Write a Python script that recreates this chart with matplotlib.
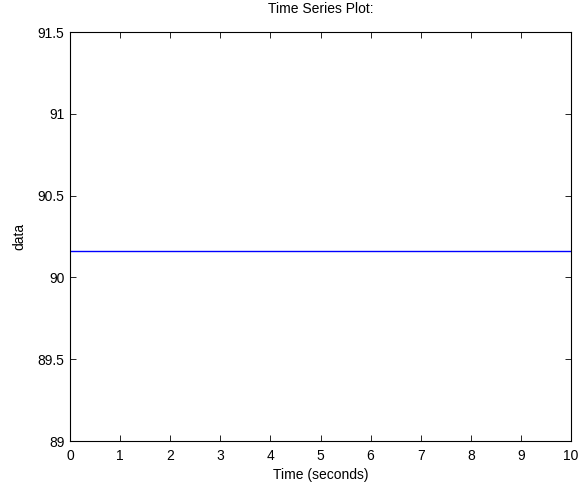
import matplotlib
matplotlib.use("Agg")
import matplotlib.pyplot as plt

time_s = [0, 1, 2, 3, 4, 5, 6, 7, 8, 9, 10]
data_vals = [90.16] * 11
xticks = [0, 1, 2, 3, 4, 5, 6, 7, 8, 9, 10]
yticks = [89, 89.5, 90, 90.5, 91, 91.5]
ytick_labels = ["89", "89.5", "90", "90.5", "91", "91.5"]

plt.rcParams['font.family'] = ['Liberation Sans', 'DejaVu Sans']
fig = plt.figure(figsize=(5.84, 4.86), dpi=100)
ax = fig.add_axes([70/584, 45/486, 501/584, 409/486])
ax.plot(time_s, data_vals, color='#0000ff', lw=1.0)
ax.set_xlim(0, 10)
ax.set_ylim(89, 91.5)
ax.set_xticks(xticks)
ax.set_yticks(yticks)
ax.set_yticklabels(ytick_labels)
ax.tick_params(direction='in', length=4, width=0.6, labelsize=10, top=True, right=True, pad=4)
ax.tick_params(axis='x', pad=6)
for s in ax.spines.values():
    s.set_linewidth(0.8)
ax.set_xlabel("Time (seconds)", fontsize=10, labelpad=3)
ax.set_ylabel("data", fontsize=10, labelpad=8)
ax.set_title("Time Series Plot:", fontsize=10, pad=14)
fig.savefig("out.png", dpi=100)
